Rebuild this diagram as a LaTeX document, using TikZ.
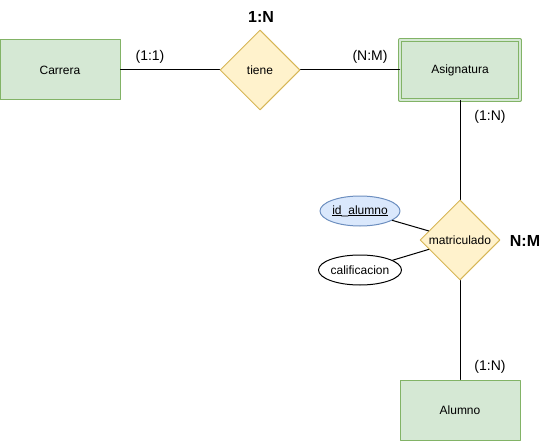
\documentclass[tikz,border=0pt]{standalone}
\usepackage{fontspec}
\setmainfont{Liberation Sans}
\usepackage[usenames]{xcolor}
\usetikzlibrary{shapes.geometric}
\definecolor{entfill}{HTML}{D5E8D4}
\definecolor{entline}{HTML}{82B366}
\definecolor{relfill}{HTML}{FFF2CC}
\definecolor{relline}{HTML}{D6B656}
\definecolor{keyfill}{HTML}{DAE8FC}
\definecolor{keyline}{HTML}{6C8EBF}

\begin{document}
\begin{tikzpicture}[line cap=round,line join=round,x=1pt,y=-1pt,line width=1pt,
  entity/.style={draw=entline,fill=entfill,minimum width=120pt,minimum height=60pt,inner sep=0pt,font=\fontsize{12}{14}\selectfont},
  relation/.style={diamond,draw=relline,fill=relfill,minimum width=80pt,minimum height=80pt,inner sep=0pt,aspect=1,font=\fontsize{12}{14}\selectfont},
  attrib/.style={ellipse,draw,minimum width=80pt,minimum height=30pt,inner sep=0pt,font=\fontsize{12}{14}\selectfont},
  card/.style={font=\fontsize{14}{16}\selectfont},
  ratio/.style={font=\fontsize{16}{18}\selectfont\bfseries}]
\useasboundingbox (0,0) rectangle (551,441);
\draw (60,70) node[entity] (carrera) {Carrera};
\draw (460,70) node[entity,double=entfill,double distance=2pt] (asignatura) {Asignatura};
\draw (460,410) node[entity] (alumno) {Alumno};
\draw (260,70) node[relation] (tiene) {tiene};
\draw (460,240) node[relation] (matriculado) {matriculado};
\draw (360,211) node[attrib,draw=keyline,fill=keyfill] (idalumno) {\underline{id}\_\underline{alumno}};
\draw (360,270) node[attrib,fill=white] (calif) {calificacion};
% connectors
\draw (carrera) -- (tiene);
\draw (tiene) -- (asignatura);
\draw (asignatura) -- (matriculado);
\draw (matriculado) -- (alumno);
\draw (idalumno) -- (matriculado);
\draw (calif) -- (matriculado);
% labels
\draw (261,17) node[ratio] {1:N};
\draw (525,241) node[ratio] {N:M};
\draw (150,57) node[card] {(1:1)};
\draw (370,57) node[card] {(N:M)};
\draw (490,117) node[card] {(1:N)};
\draw (490,367) node[card] {(1:N)};
\end{tikzpicture}
\end{document}
